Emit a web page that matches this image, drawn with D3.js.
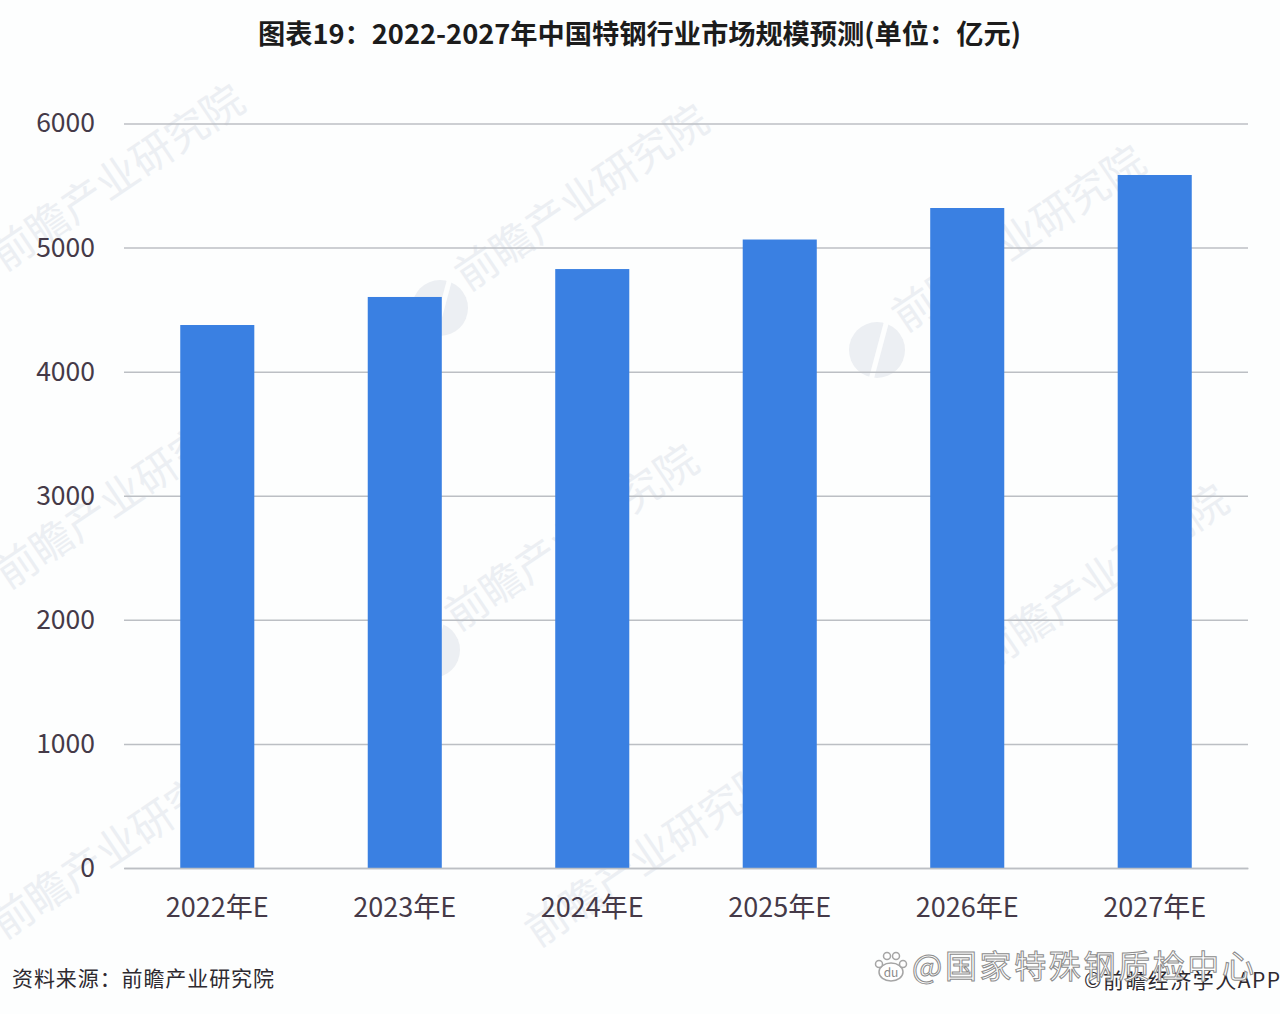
<!DOCTYPE html>
<html>
<head>
<meta charset="utf-8">
<script src="https://cdn.jsdelivr.net/npm/d3@7"></script>
<style>
  html, body { margin: 0; padding: 0; background: #fdfefe; }
  svg { display: block; }
  text { font-family: "Noto Sans CJK SC", "Noto Sans", sans-serif; }
</style>
</head>
<body>
<svg id="chart"></svg>
<script>
let categories = ["2022年E", "2023年E", "2024年E", "2025年E", "2026年E", "2027年E"];
let values = [4376, 4602, 4827, 5065, 5319, 5585];
let yTicks = [0, 1000, 2000, 3000, 4000, 5000, 6000];
let titleText = "图表19：2022-2027年中国特钢行业市场规模预测(单位：亿元)";
let sourceText = "资料来源：前瞻产业研究院";
let markText = "前瞻产业研究院";
let credit1 = "@国家特殊钢质检中心";
let credit2 = "©前瞻经济学人APP";

let w = 1280;
let h = 1014;
let svg = d3.select("#chart").attr("width", w).attr("height", h);

let xScale = d3.scaleBand().domain(categories).range([124, 1248]).paddingInner(0.605).paddingOuter(0.3);
let yScale = d3.scaleLinear().domain([0, 6000]).range([868, 123.5]);

// faint diagonal watermark, sits under the bars
let marks = [[4, 272], [468, 292], [905, 333], [8, 590], [458, 632], [988, 672], [4, 940], [538, 948]];
let logos = [[440, 308], [877, 350], [432, 650], [962, 692]];

svg.append("g").selectAll("text")
   .data(marks)
   .enter()
   .append("text")
   .attr("transform", (d) => `translate(${d[0]},${d[1]}) rotate(-34)`)
   .attr("font-size", 42)
   .attr("fill", "#eceff3")
   .text(markText);

svg.append("g").selectAll("circle")
   .data(logos)
   .enter()
   .append("circle")
   .attr("cx", (d) => d[0])
   .attr("cy", (d) => d[1])
   .attr("r", 28)
   .attr("fill", "#eceff3");

svg.append("g").selectAll("line")
   .data(logos)
   .enter()
   .append("line")
   .attr("x1", (d) => d[0] - 6)
   .attr("y1", (d) => d[1] + 30)
   .attr("x2", (d) => d[0] + 10)
   .attr("y2", (d) => d[1] - 30)
   .attr("stroke", "#fdfefe")
   .attr("stroke-width", 5);

let yAxis = d3.axisLeft(yScale).tickValues(yTicks).tickSize(-1124).tickPadding(29).tickFormat(d3.format("d"));
let gy = svg.append("g").attr("transform", "translate(124,0)").call(yAxis);
gy.select(".domain").remove();
gy.selectAll("line").attr("stroke", "#bcbfc4").attr("stroke-width", 1.5);
gy.selectAll("text").attr("font-size", 26.5).attr("fill", "#453a48");

svg.selectAll("rect.bar")
   .data(values)
   .enter()
   .append("rect")
   .attr("class", "bar")
   .attr("x", (d, i) => xScale(categories[i]))
   .attr("y", (d) => yScale(d))
   .attr("width", xScale.bandwidth())
   .attr("height", (d) => yScale(0) - yScale(d))
   .attr("fill", "#3a80e2");

let xAxis = d3.axisBottom(xScale).tickSize(0).tickPadding(30);
let gx = svg.append("g").attr("transform", "translate(0,868)").call(xAxis);
gx.select(".domain").attr("stroke", "#bcbfc4").attr("stroke-width", 1.5);
gx.selectAll("text").attr("font-size", 27).attr("fill", "#453a48");

svg.append("text")
   .attr("x", 258).attr("y", 44)
   .attr("font-size", 27).attr("font-weight", 700).attr("fill", "#1c1c1c")
   .attr("textLength", 763).attr("lengthAdjust", "spacingAndGlyphs")
   .text(titleText);

svg.append("text")
   .attr("x", 12).attr("y", 986)
   .attr("font-size", 21).attr("fill", "#2e2a30")
   .attr("textLength", 262)
   .text(sourceText);

svg.append("text")
   .attr("x", 1084).attr("y", 988)
   .attr("font-size", 21).attr("fill", "#2e2a30")
   .attr("textLength", 196)
   .text(credit2);

// baidu paw next to the account name
let paw = svg.append("g").attr("fill", "#ffffff").attr("stroke", "#a5a5a5").attr("stroke-width", 1.5);
paw.append("ellipse").attr("cx", 891).attr("cy", 972).attr("rx", 12).attr("ry", 9);
paw.selectAll("circle")
   .data([[879, 964], [887, 956], [896, 956], [903, 964]])
   .enter()
   .append("circle")
   .attr("cx", (d) => d[0])
   .attr("cy", (d) => d[1])
   .attr("r", 3.5);
svg.append("text")
   .attr("x", 891).attr("y", 977)
   .attr("text-anchor", "middle")
   .attr("font-size", 12).attr("fill", "#8a8a8a")
   .text("du");

svg.append("text")
   .attr("x", 912).attr("y", 978)
   .attr("font-size", 32).attr("fill", "#ffffff")
   .attr("stroke", "#8c8c8c").attr("stroke-width", 1)
   .attr("textLength", 342)
   .text(credit1);
</script>
</body>
</html>
